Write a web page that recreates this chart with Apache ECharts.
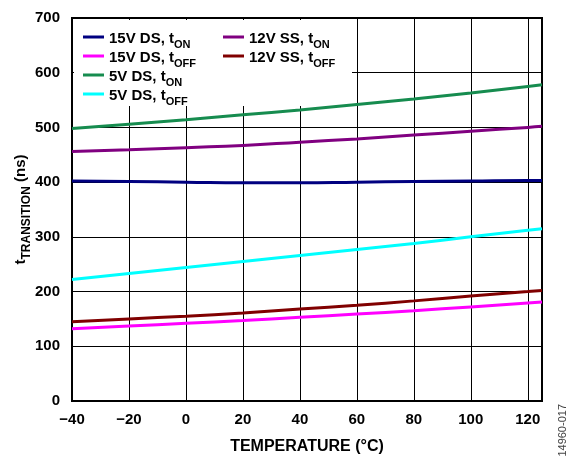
<!DOCTYPE html>
<html><head><meta charset="utf-8">
<script src="https://cdn.jsdelivr.net/npm/echarts@6/dist/echarts.min.js"></script>
<style>html,body{margin:0;padding:0;background:#fff}#c{width:569px;height:456px}</style>
</head><body><div id="c"></div>
<script>
const temps = [-40,-20,0,20,40,60,80,100,120,125];
const v15DSon  = [402,401,400,399,399,400,401,402,403,403];
const v15DSoff = [132,137,142,147,153,159,165,172,179,181];
const v5DSon   = [498,506,514,523,532,542,552,563,575,578];
const v5DSoff  = [222,233,244,255,266,277,288,300,312,315];
const v12SSon  = [456,459,463,467,473,479,486,493,500,502];
const v12SSoff = [145,150,155,161,168,175,183,192,200,202];
const xTicks = [-40,-20,0,20,40,60,80,100,120];
const yTicks = [0,100,200,300,400,500,600,700];

const seriesDefs = [
  {name:'15V DS, tON', data:v15DSon, color:'#000080'},
  {name:'15V DS, tOFF', data:v15DSoff, color:'#ff00ff'},
  {name:'5V DS, tON', data:v5DSon, color:'#168c4f'},
  {name:'5V DS, tOFF', data:v5DSoff, color:'#00ffff'},
  {name:'12V SS, tON', data:v12SSon, color:'#800080'},
  {name:'12V SS, tOFF', data:v12SSoff, color:'#800000'}
];
const F = 'Liberation Sans, Arial, sans-serif';
const legendText = {
  fontFamily:F, fontWeight:'bold', fontSize:15, color:'#000',
  rich:{ m:{fontFamily:F, fontWeight:'bold', fontSize:15, color:'#000', verticalAlign:'bottom', lineHeight:18},
         s:{fontFamily:F, fontWeight:'bold', fontSize:11, color:'#000', verticalAlign:'bottom', lineHeight:14, padding:[0,0,-4,0]} }
};
const fmt = n => n.replace(/^(.*t)(ON|OFF)$/, '{m|$1}{s|$2}');
const legendBase = {
  orient:'vertical', icon:'rect', itemWidth:21, itemHeight:3, itemGap:0,
  padding:0, textStyle:legendText, formatter:fmt
};
const chart = echarts.init(document.getElementById('c'));
chart.setOption({
  animation:false,
  grid:{left:72, right:27, top:18, bottom:55, outerBoundsMode:'none', containLabel:false,
        show:true, borderColor:'#000', borderWidth:2, backgroundColor:'transparent'},
  graphic:[
    {type:'rect', shape:{x:74, y:20, width:278, height:86}, style:{fill:'#fff'}, z:1},
    {type:'text', left:557, top:404, rotation:Math.PI/2, style:{text:'14960-017', fontFamily:F, fontSize:11, fill:'#444'}}
  ],
  legend:[
    Object.assign({}, legendBase, {left:83, top:31, data:seriesDefs.slice(0,4).map(s=>s.name)}),
    Object.assign({}, legendBase, {left:223, top:31, data:seriesDefs.slice(4).map(s=>s.name)})
  ],
  xAxis:{type:'value', min:-40, max:125, interval:20,
    name:'TEMPERATURE (°C)', nameLocation:'middle', nameGap:38, nameMoveOverlap:false,
    nameTextStyle:{fontFamily:F, fontWeight:'bold', fontSize:16, color:'#000'},
    axisLine:{show:false}, axisTick:{show:false},
    axisLabel:{showMaxLabel:false, margin:11, fontFamily:F, fontWeight:'bold', fontSize:15, color:'#000',
      formatter:v => xTicks.includes(v) ? String(v).replace('-', '\u2212') : ''},
    splitLine:{show:true, lineStyle:{color:'#000', width:1}}
  },
  yAxis:{type:'value', min:0, max:700, interval:100,
    name:'{m|t}{s|TRANSITION}{m| (ns)}', nameLocation:'middle', nameGap:44, nameRotate:90, nameMoveOverlap:false,
    nameTextStyle:{fontFamily:F, fontWeight:'bold', fontSize:15, color:'#000',
      rich:{ m:{fontFamily:F, fontWeight:'bold', fontSize:15, color:'#000', verticalAlign:'bottom', lineHeight:18},
             s:{fontFamily:F, fontWeight:'bold', fontSize:12, color:'#000', verticalAlign:'bottom', lineHeight:15, padding:[0,0,-5,0]} }},
    axisLine:{show:false}, axisTick:{show:false},
    axisLabel:{margin:12, fontFamily:F, fontWeight:'bold', fontSize:15, color:'#000',
      formatter:v => yTicks.includes(v) ? String(v) : ''},
    splitLine:{show:true, lineStyle:{color:'#000', width:1}}
  },
  series: seriesDefs.map(s => ({
    name:s.name, type:'line', smooth:true, showSymbol:false, z:3,
    data: temps.map((t,i)=>[t, s.data[i]]),
    lineStyle:{color:s.color, width:3}, itemStyle:{color:s.color}
  }))
});
</script></body></html>
